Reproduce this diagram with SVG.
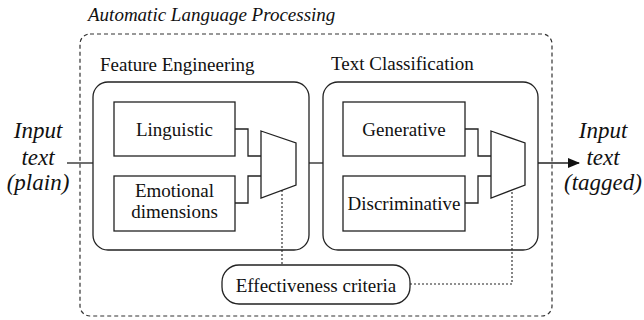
<svg xmlns="http://www.w3.org/2000/svg" width="644" height="320" viewBox="0 0 644 320">
<defs>
<style>
text{font-family:'Liberation Serif','Times New Roman',serif;font-size:19px;fill:#111}
.it{font-style:italic}
.big{font-size:23px}
.box{fill:#fff;stroke:#222;stroke-width:1.3}
.cont{fill:none;stroke:#222;stroke-width:1.3}
.dash{fill:none;stroke:#333;stroke-width:1.2;stroke-dasharray:4,3}
.ln{fill:none;stroke:#222;stroke-width:1.3}
.dot{fill:none;stroke:#222;stroke-width:1.1;stroke-dasharray:2,2}
</style>
<marker id="arr" markerWidth="12" markerHeight="10" refX="11" refY="5" orient="auto" markerUnits="userSpaceOnUse">
<path d="M0,0 L12,5 L0,10 Z" fill="#111"/>
</marker>
</defs>
<rect width="644" height="320" fill="#fff"/>
<g id="outer">
<rect class="dash" x="80" y="34" width="472" height="282" rx="10"/>
<text class="it" x="88" y="21">Automatic Language Processing</text>
</g>
<g id="feature-engineering">
<rect class="cont" x="93" y="82" width="216" height="168" rx="15"/>
<text x="100" y="71">Feature Engineering</text>
</g>
<g id="text-classification">
<rect class="cont" x="323" y="82" width="215" height="168" rx="15"/>
<text x="331" y="70">Text Classification</text>
</g>
<g id="linguistic">
<rect class="box" x="114" y="102" width="121" height="54"/>
<text x="174.5" y="136" text-anchor="middle">Linguistic</text>
</g>
<g id="emotional">
<rect class="box" x="114" y="176" width="121" height="55"/>
<text x="174.5" y="197" text-anchor="middle">Emotional</text>
<text x="174.5" y="218" text-anchor="middle">dimensions</text>
</g>
<g id="generative">
<rect class="box" x="343" y="102" width="122" height="54"/>
<text x="404" y="136" text-anchor="middle">Generative</text>
</g>
<g id="discriminative">
<rect class="box" x="343" y="176" width="122" height="55"/>
<text x="404" y="210" text-anchor="middle">Discriminative</text>
</g>
<g id="mux1">
<polygon class="box" points="261,131 296,143 296,185 261,198"/>
</g>
<g id="mux2">
<polygon class="box" points="491,131 525,143 525,185 491,198"/>
</g>
<g id="effectiveness">
<rect class="box" x="222" y="265" width="188" height="39" rx="17"/>
<text x="316" y="292" text-anchor="middle">Effectiveness criteria</text>
</g>
<g id="input">
<text class="it big" x="38" y="138" text-anchor="middle">Input</text>
<text class="it big" x="38" y="165" text-anchor="middle">text</text>
<text class="it big" x="38" y="190" text-anchor="middle">(plain)</text>
</g>
<g id="output">
<text class="it big" x="603" y="138" text-anchor="middle">Input</text>
<text class="it big" x="603" y="165" text-anchor="middle">text</text>
<text class="it big" x="603" y="190" text-anchor="middle">(tagged)</text>
</g>
<g id="connectors">
<path class="ln" d="M67,163 H93"/>
<path class="ln" d="M235,129 H248 V156 H261"/>
<path class="ln" d="M235,203 H248 V176 H261"/>
<path class="ln" d="M465,129 H478 V156 H491"/>
<path class="ln" d="M465,203 H478 V176 H491"/>
<path class="ln" d="M309,163 H323"/>
<path class="ln" d="M538,163 H579" marker-end="url(#arr)"/>
<path class="dot" d="M282,190 V265"/>
<path class="dot" d="M410,284 H512 V190"/>
</g>
</svg>
